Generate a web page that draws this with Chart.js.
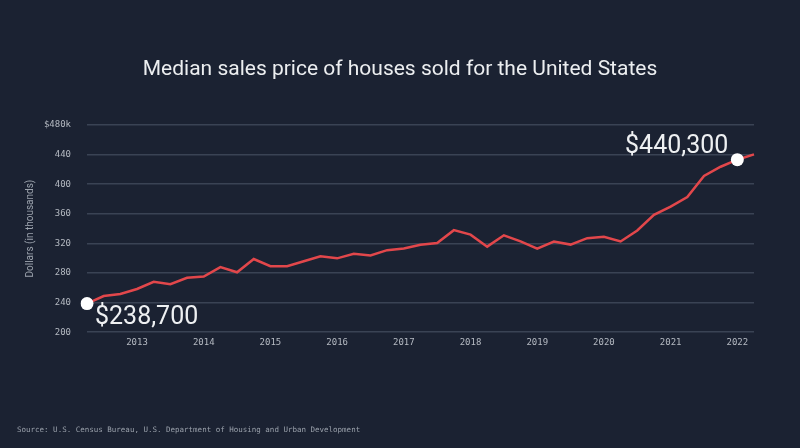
<!DOCTYPE html>
<html>
<head>
<meta charset="utf-8">
<script src="https://cdn.jsdelivr.net/npm/chart.js@4/dist/chart.umd.min.js"></script>
<style>
  html, body { margin: 0; padding: 0; background: #1b2232; }
  #wrap { width: 800px; height: 448px; }
</style>
</head>
<body>
<div id="wrap"><canvas id="priceChart"></canvas></div>
<script>
// quarterly median sales price, thousands of dollars (2012 Q2 .. 2022 Q2)
var quarters = [
  '2012 Q2', '2012 Q3', '2012 Q4',
  '2013 Q1', '2013 Q2', '2013 Q3', '2013 Q4',
  '2014 Q1', '2014 Q2', '2014 Q3', '2014 Q4',
  '2015 Q1', '2015 Q2', '2015 Q3', '2015 Q4',
  '2016 Q1', '2016 Q2', '2016 Q3', '2016 Q4',
  '2017 Q1', '2017 Q2', '2017 Q3', '2017 Q4',
  '2018 Q1', '2018 Q2', '2018 Q3', '2018 Q4',
  '2019 Q1', '2019 Q2', '2019 Q3', '2019 Q4',
  '2020 Q1', '2020 Q2', '2020 Q3', '2020 Q4',
  '2021 Q1', '2021 Q2', '2021 Q3', '2021 Q4',
  '2022 Q1', '2022 Q2'
];
var prices = [
  238.7, 248.8, 251.7,
  258.4, 268.1, 264.8, 273.6,
  275.2, 288.0, 281.0, 298.9,
  289.2, 289.1, 295.8, 302.5,
  299.8, 306.0, 303.8, 310.9,
  313.1, 318.2, 320.5, 337.9,
  331.8, 315.6, 330.9, 322.8,
  313.0, 322.5, 318.4, 327.1,
  329.0, 322.6, 337.5, 358.7,
  369.8, 382.6, 411.2, 423.6,
  433.1, 440.3
];
var yTicks = [200, 240, 280, 320, 360, 400, 440, 480];
// highlighted points and their callout text
var calloutIndex = [0, 39];
var calloutText = ['$238,700', '$440,300'];

var chartTitle = 'Median sales price of houses sold for the United States';
var sourceNote = 'Source: U.S. Census Bureau, U.S. Department of Housing and Urban Development';

var callouts = {
  id: 'callouts',
  afterDatasetsDraw(chart) {
    var ctx = chart.ctx;
    var meta = chart.getDatasetMeta(0);
    ctx.save();
    ctx.font = '25px Roboto';
    ctx.fillStyle = '#eef0f2';
    ctx.textBaseline = 'alphabetic';
    // first point: text to the lower right
    var p0 = meta.data[calloutIndex[0]];
    ctx.textAlign = 'left';
    ctx.fillText(calloutText[0], p0.x + 8, p0.y + 20);
    // recent point: text to the upper left
    var p1 = meta.data[calloutIndex[1]];
    ctx.textAlign = 'right';
    ctx.fillText(calloutText[1], p1.x - 9, p1.y - 7);
    ctx.restore();
  },
  afterDraw(chart) {
    var ctx = chart.ctx;
    ctx.save();
    ctx.font = '21px Roboto';
    ctx.fillStyle = '#eceef0';
    ctx.textAlign = 'center';
    ctx.textBaseline = 'alphabetic';
    ctx.fillText(chartTitle, chart.width / 2, 75);

    ctx.font = '7.5px "DejaVu Sans Mono"';
    ctx.fillStyle = '#9aa1ab';
    ctx.textAlign = 'left';
    ctx.textBaseline = 'middle';
    ctx.fillText(sourceNote, 17, 430);
    ctx.restore();
  }
};

var ctx = document.getElementById('priceChart').getContext('2d');
new Chart(ctx, {
  type: 'line',
  data: {
    labels: quarters,
    datasets: [{
      data: prices,
      borderColor: '#e2474b',
      borderWidth: 2.5,
      tension: 0,
      pointRadius: c => calloutIndex.includes(c.dataIndex) ? 6.5 : 0,
      pointHoverRadius: 0,
      pointBackgroundColor: '#ffffff',
      pointBorderWidth: 0
    }]
  },
  options: {
    responsive: true,
    maintainAspectRatio: false,
    animation: false,
    events: [],
    layout: { padding: { left: 0, right: 46, top: 125, bottom: 95 } },
    plugins: {
      legend: { display: false },
      tooltip: { enabled: false },
      title: { display: false }
    },
    scales: {
      x: {
        offset: false,
        grid: { display: false, drawTicks: false },
        border: { display: false },
        ticks: {
          autoSkip: false,
          maxRotation: 0,
          color: '#b5bac2',
          font: { family: 'DejaVu Sans Mono', size: 9 },
          padding: 5,
          callback: function(v, i) {
            var lab = quarters[i];
            return lab.endsWith('Q1') ? lab.slice(0, 4) : '';
          }
        }
      },
      y: {
        min: 200,
        max: 480,
        afterFit: function(scale) { scale.width = 87; },
        afterBuildTicks: function(scale) { scale.ticks = yTicks.map(v => ({ value: v })); },
        grid: { color: '#3a4354', lineWidth: 1.5, drawTicks: false },
        border: { display: false },
        ticks: {
          color: '#b5bac2',
          font: { family: 'DejaVu Sans Mono', size: 9 },
          padding: 16,
          callback: v => v === 480 ? '$480k' : String(v)
        },
        title: {
          display: true,
          text: 'Dollars (in thousands)',
          color: '#9ca3ad',
          font: { family: 'Roboto', size: 10 },
          padding: { top: 24, bottom: 0 }
        }
      }
    }
  },
  plugins: [callouts]
});
</script>
</body>
</html>
